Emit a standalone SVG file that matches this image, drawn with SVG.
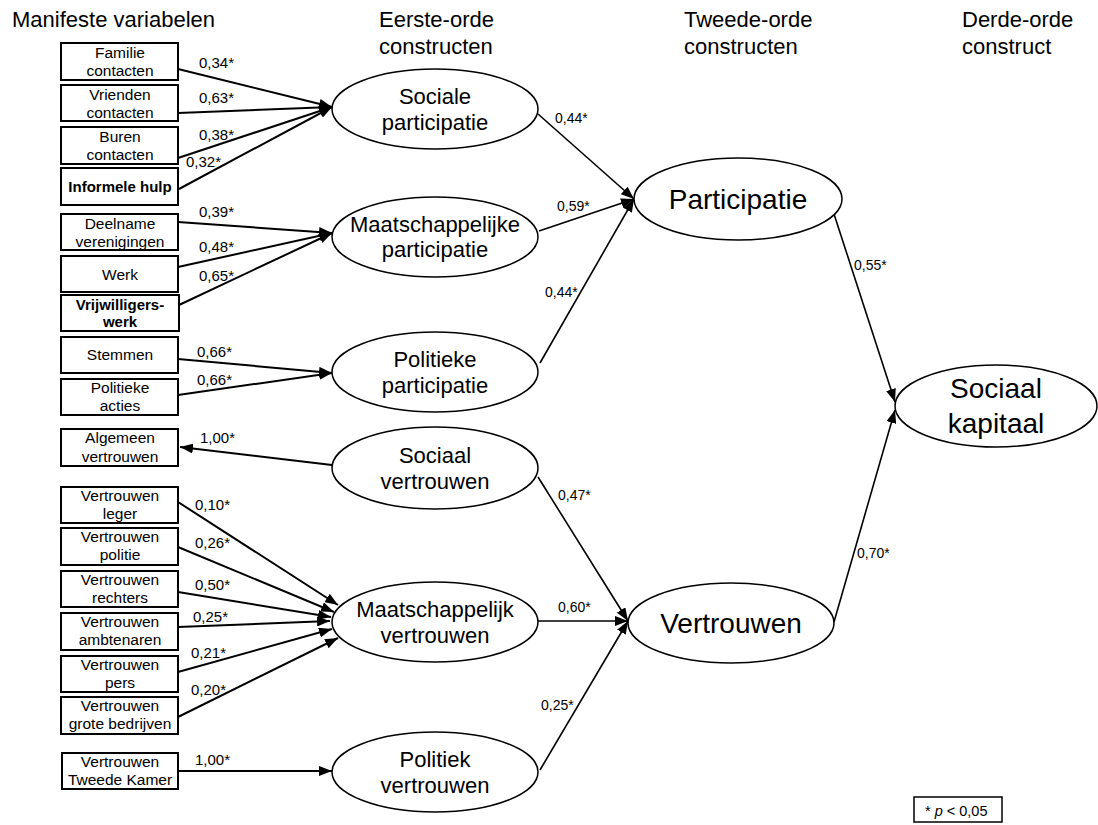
<svg xmlns="http://www.w3.org/2000/svg" width="1098" height="825" viewBox="0 0 1098 825">
<style>
text{font-family:"Liberation Sans",Arial,sans-serif;fill:#000}
.title{font-size:22px}
.bx{fill:#fff;stroke:#000;stroke-width:2}
.bt{font-size:15.5px;text-anchor:middle}
.bold{font-weight:bold;font-size:15px}
.el{fill:#fff;stroke:#000;stroke-width:1.5}
.et{font-size:22px;text-anchor:middle}
.big{font-size:28px;text-anchor:middle}
.lb{font-size:15px}
.lm{font-size:14px}
.ln{stroke:#000;stroke-width:2;fill:none;marker-end:url(#ah)}
.ln2{stroke:#000;stroke-width:1.6;fill:none;marker-end:url(#ah)}
</style>
<defs>
<marker id="ah" markerUnits="userSpaceOnUse" markerWidth="14" markerHeight="10" refX="13" refY="5" orient="auto">
<path d="M0,0 L13,5 L0,10 z" fill="#000"/>
</marker>
</defs>
<rect width="1098" height="825" fill="#fff"/>
<g id="titles">
<text class="title" x="12" y="27">Manifeste variabelen</text>
<text class="title" x="379" y="27">Eerste-orde</text>
<text class="title" x="379" y="54">constructen</text>
<text class="title" x="684" y="27">Tweede-orde</text>
<text class="title" x="684" y="54">constructen</text>
<text class="title" x="962" y="27">Derde-orde</text>
<text class="title" x="962" y="54">construct</text>
</g>
<g id="connectors">
<line class="ln" x1="178" y1="69" x2="332" y2="107"/>
<line class="ln" x1="178" y1="113" x2="332" y2="107"/>
<line class="ln" x1="178" y1="158" x2="332" y2="107"/>
<line class="ln" x1="179" y1="189" x2="332" y2="107"/>
<line class="ln" x1="178" y1="222" x2="332" y2="233"/>
<line class="ln" x1="178" y1="267" x2="332" y2="233"/>
<line class="ln" x1="179" y1="305" x2="332" y2="233"/>
<line class="ln" x1="178" y1="359" x2="332" y2="373"/>
<line class="ln" x1="178" y1="395" x2="332" y2="373"/>
<line class="ln" x1="332" y1="465" x2="180" y2="447"/>
<line class="ln" x1="178" y1="502" x2="338" y2="605"/>
<line class="ln" x1="178" y1="547" x2="334" y2="612"/>
<line class="ln" x1="178" y1="592" x2="331" y2="617"/>
<line class="ln" x1="178" y1="627" x2="330" y2="621"/>
<line class="ln" x1="178" y1="672" x2="332" y2="629"/>
<line class="ln" x1="178" y1="717" x2="338" y2="638"/>
<line class="ln" x1="178" y1="771" x2="332" y2="771"/>
<line class="ln2" x1="538" y1="114" x2="634" y2="199"/>
<line class="ln2" x1="539" y1="231" x2="634" y2="199"/>
<line class="ln2" x1="540" y1="363" x2="634" y2="199"/>
<line class="ln2" x1="538" y1="477" x2="628" y2="621"/>
<line class="ln2" x1="538" y1="621" x2="628" y2="621"/>
<line class="ln2" x1="540" y1="770" x2="628" y2="621"/>
<line class="ln2" x1="834" y1="214" x2="895" y2="402"/>
<line class="ln2" x1="834" y1="622" x2="895" y2="410"/>
<g id="labels">
<text class="lb" x="199" y="68">0,34*</text>
<text class="lb" x="199" y="103">0,63*</text>
<text class="lb" x="199" y="140">0,38*</text>
<text class="lb" x="186" y="167">0,32*</text>
<text class="lb" x="199" y="217">0,39*</text>
<text class="lb" x="199" y="252">0,48*</text>
<text class="lb" x="199" y="281">0,65*</text>
<text class="lb" x="197" y="357">0,66*</text>
<text class="lb" x="197" y="385">0,66*</text>
<text class="lb" x="200" y="443">1,00*</text>
<text class="lb" x="195" y="510">0,10*</text>
<text class="lb" x="195" y="548">0,26*</text>
<text class="lb" x="195" y="590">0,50*</text>
<text class="lb" x="193" y="622">0,25*</text>
<text class="lb" x="191" y="658">0,21*</text>
<text class="lb" x="191" y="695">0,20*</text>
<text class="lb" x="195" y="765">1,00*</text>
<text class="lm" x="555" y="123">0,44*</text>
<text class="lm" x="557" y="211">0,59*</text>
<text class="lm" x="545" y="297">0,44*</text>
<text class="lm" x="558" y="500">0,47*</text>
<text class="lm" x="558" y="612">0,60*</text>
<text class="lm" x="541" y="710">0,25*</text>
<text class="lm" x="854" y="270">0,55*</text>
<text class="lm" x="857" y="558">0,70*</text>
</g>
</g>
<g id="familie"><rect class="bx" x="61" y="43" width="117" height="37"/><text class="bt" x="120" y="58">Familie</text><text class="bt" x="120" y="76">contacten</text></g>
<g id="vrienden"><rect class="bx" x="61" y="85" width="117" height="36"/><text class="bt" x="120" y="100">Vrienden</text><text class="bt" x="120" y="118">contacten</text></g>
<g id="buren"><rect class="bx" x="61" y="127" width="117" height="37"/><text class="bt" x="120" y="142">Buren</text><text class="bt" x="120" y="160">contacten</text></g>
<g id="informele"><rect class="bx" x="61" y="168" width="117" height="37"/><text class="bt bold" x="120" y="192">Informele hulp</text></g>
<g id="deelname"><rect class="bx" x="61" y="214" width="117" height="36"/><text class="bt" x="120" y="229">Deelname</text><text class="bt" x="120" y="247">verenigingen</text></g>
<g id="werk"><rect class="bx" x="61" y="256" width="117" height="36"/><text class="bt" x="120" y="280">Werk</text></g>
<g id="vrijwilligers"><rect class="bx" x="61" y="295" width="118" height="36"/><text class="bt bold" x="120" y="310">Vrijwilligers-</text><text class="bt bold" x="120" y="327">werk</text></g>
<g id="stemmen"><rect class="bx" x="61" y="337" width="117" height="36"/><text class="bt" x="120" y="360">Stemmen</text></g>
<g id="politieke-acties"><rect class="bx" x="61" y="379" width="117" height="36"/><text class="bt" x="120" y="393">Politieke</text><text class="bt" x="120" y="411">acties</text></g>
<g id="algemeen"><rect class="bx" x="61" y="429" width="117" height="37"/><text class="bt" x="120" y="443">Algemeen</text><text class="bt" x="120" y="462">vertrouwen</text></g>
<g id="leger"><rect class="bx" x="61" y="487" width="117" height="36"/><text class="bt" x="120" y="501">Vertrouwen</text><text class="bt" x="120" y="519">leger</text></g>
<g id="politie"><rect class="bx" x="61" y="528" width="117" height="37"/><text class="bt" x="120" y="542">Vertrouwen</text><text class="bt" x="120" y="560">politie</text></g>
<g id="rechters"><rect class="bx" x="61" y="571" width="117" height="36"/><text class="bt" x="120" y="585">Vertrouwen</text><text class="bt" x="120" y="603">rechters</text></g>
<g id="ambtenaren"><rect class="bx" x="61" y="613" width="117" height="37"/><text class="bt" x="120" y="627">Vertrouwen</text><text class="bt" x="120" y="645">ambtenaren</text></g>
<g id="pers"><rect class="bx" x="61" y="656" width="117" height="36"/><text class="bt" x="120" y="670">Vertrouwen</text><text class="bt" x="120" y="688">pers</text></g>
<g id="bedrijven"><rect class="bx" x="61" y="697" width="117" height="37"/><text class="bt" x="120" y="711">Vertrouwen</text><text class="bt" x="120" y="729">grote bedrijven</text></g>
<g id="tweedekamer"><rect class="bx" x="62" y="753" width="116" height="36"/><text class="bt" x="120" y="767">Vertrouwen</text><text class="bt" x="120" y="785">Tweede Kamer</text></g>
<g id="sociale-participatie"><ellipse class="el" cx="435" cy="109" rx="103" ry="40"/><text class="et" x="435" y="104">Sociale</text><text class="et" x="435" y="130">participatie</text></g>
<g id="maatschappelijke-participatie"><ellipse class="el" cx="435" cy="237" rx="103" ry="40"/><text class="et" x="435" y="232">Maatschappelijke</text><text class="et" x="435" y="257">participatie</text></g>
<g id="politieke-participatie"><ellipse class="el" cx="435" cy="372" rx="103" ry="40"/><text class="et" x="435" y="367">Politieke</text><text class="et" x="435" y="393">participatie</text></g>
<g id="sociaal-vertrouwen"><ellipse class="el" cx="435" cy="468" rx="103" ry="41"/><text class="et" x="435" y="463">Sociaal</text><text class="et" x="435" y="489">vertrouwen</text></g>
<g id="maatschappelijk-vertrouwen"><ellipse class="el" cx="435" cy="622" rx="103" ry="40"/><text class="et" x="435" y="617">Maatschappelijk</text><text class="et" x="435" y="643">vertrouwen</text></g>
<g id="politiek-vertrouwen"><ellipse class="el" cx="435" cy="772" rx="103" ry="40"/><text class="et" x="435" y="767">Politiek</text><text class="et" x="435" y="793">vertrouwen</text></g>
<g id="participatie"><ellipse class="el" cx="738" cy="199" rx="104" ry="41"/><text class="big" x="738" y="209">Participatie</text></g>
<g id="vertrouwen"><ellipse class="el" cx="731" cy="623" rx="103" ry="40"/><text class="big" x="731" y="633">Vertrouwen</text></g>
<g id="sociaal-kapitaal"><ellipse class="el" cx="996" cy="406" rx="101" ry="41"/><text class="big" x="996" y="398">Sociaal</text><text class="big" x="996" y="433">kapitaal</text></g>
<g id="legend"><rect x="914" y="797" width="88" height="25" fill="#fff" stroke="#000" stroke-width="1.5"/><text x="925" y="816" font-size="14.5">* <tspan font-style="italic">p</tspan> &lt; 0,05</text></g>
</svg>
